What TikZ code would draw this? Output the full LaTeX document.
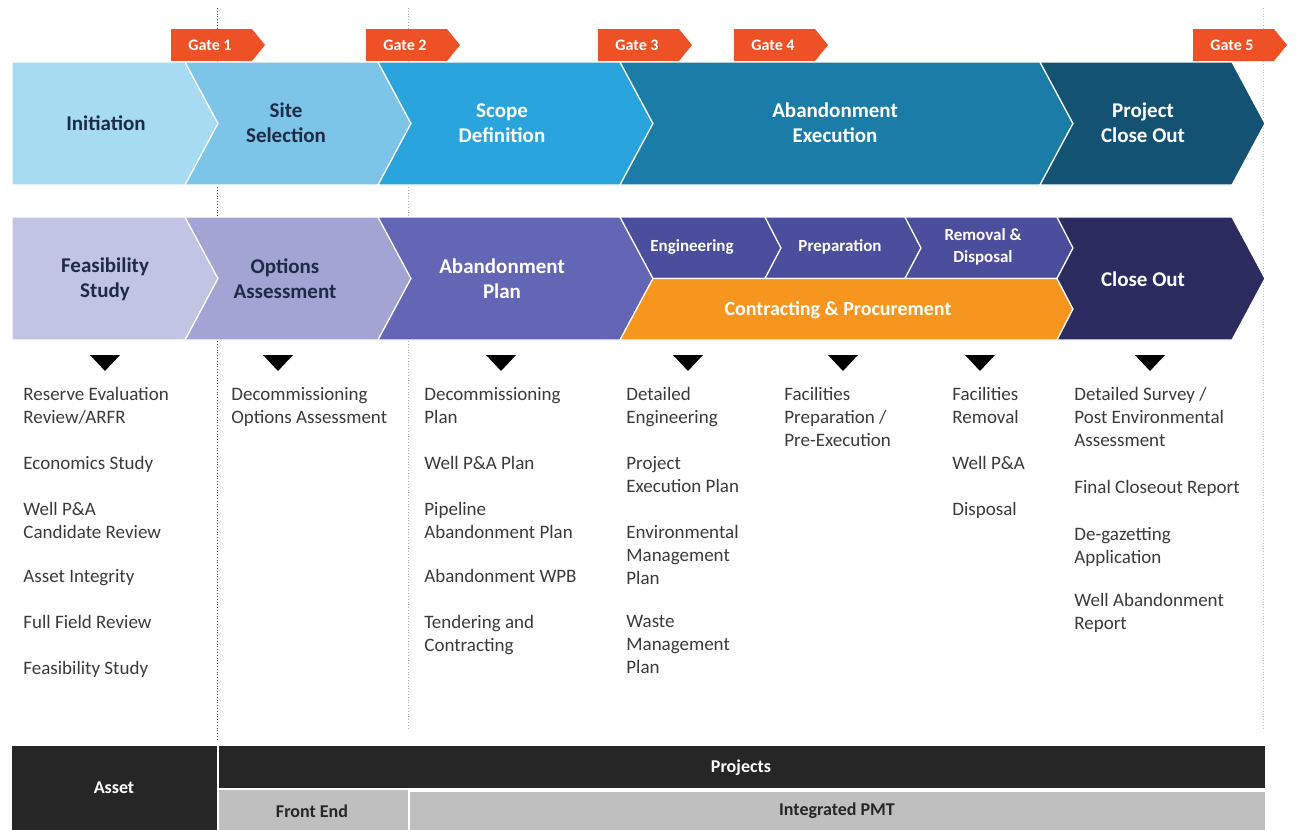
\documentclass[tikz,border=0pt]{standalone}
\usepackage{fontspec}
\setmainfont{Carlito}
\usepackage{xcolor}
\usepackage{tikz}

\definecolor{initblue}{HTML}{A6DBF2}
\definecolor{siteblue}{HTML}{7CC4E8}
\definecolor{scopeblue}{HTML}{29A4DC}
\definecolor{execblue}{HTML}{1C7CA8}
\definecolor{closeblue}{HTML}{145273}
\definecolor{feaslav}{HTML}{C1C4E2}
\definecolor{optlav}{HTML}{A2A5D3}
\definecolor{planlav}{HTML}{6365B5}
\definecolor{execlav}{HTML}{4B4D9D}
\definecolor{closelav}{HTML}{2C2B5F}
\definecolor{procorange}{HTML}{F7961E}
\definecolor{gatered}{HTML}{EE5125}
\definecolor{navytext}{HTML}{1E2B47}
\definecolor{listgray}{HTML}{3A3A3A}
\definecolor{tabblack}{HTML}{262626}
\definecolor{tabgray}{HTML}{BFBFBF}

\begin{document}
\begin{tikzpicture}[x=0.5pt, y=-0.5pt,
  phase/.style={font=\bfseries\fontsize{10.5}{12.5}\selectfont, align=center, text=white},
  darkphase/.style={phase, text=navytext},
  subphase/.style={font=\bfseries\fontsize{8.5}{11}\selectfont, align=center, text=white},
  gatetag/.style={font=\bfseries\fontsize{8}{9}\selectfont, text=white},
  item/.style={anchor=north west, inner sep=0pt, align=left, text=listgray, font=\fontsize{9.5}{11.5}\selectfont},
  tab/.style={font=\bfseries\fontsize{9}{11}\selectfont},
  gap/.style={draw=white, line width=0.6pt}
]
\useasboundingbox (0,0) rectangle (1297,830);

% gate lines
\draw[black!70, densely dotted] (217,8) -- (217,740);
\draw[black!35, densely dotted] (408,8) -- (408,730);
\draw[black!25, densely dotted] (1263,8) -- (1263,730);

% gates
\foreach \x/\n in {171/1,366/2,598/3,734/4,1193/5}{
  \fill[gatered] (\x,29) -- (\x+81,29) -- (\x+94,45) -- (\x+81,61) -- (\x,61) -- cycle;
  \node[gatetag] (gate\n) at (\x+39,45) {Gate \n};
}

% top row
\fill[initblue, gap] (12,62) -- (185,62) -- (218,123.5) -- (185,185) -- (12,185) -- cycle;
\fill[siteblue, gap] (185,62) -- (378,62) -- (411,123.5) -- (378,185) -- (185,185) -- (218,123.5) -- cycle;
\fill[scopeblue, gap] (378,62) -- (620,62) -- (653,123.5) -- (620,185) -- (378,185) -- (411,123.5) -- cycle;
\fill[execblue, gap] (620,62) -- (1040,62) -- (1073,123.5) -- (1040,185) -- (620,185) -- (653,123.5) -- cycle;
\fill[closeblue, gap] (1040,62) -- (1232,62) -- (1265,123.5) -- (1232,185) -- (1040,185) -- (1073,123.5) -- cycle;

\node[darkphase] (init) at (106,123) {Initiation};
\node[darkphase] (site) at (286,123) {Site\\Selection};
\node[phase] (scope) at (502,123) {Scope\\Definition};
\node[phase] (abexec) at (835,123) {Abandonment\\Execution};
\node[phase] (pclose) at (1143,123) {Project\\Close Out};

% second row
\fill[feaslav, gap] (12,217) -- (185,217) -- (218,278.5) -- (185,340) -- (12,340) -- cycle;
\fill[optlav, gap] (185,217) -- (378,217) -- (411,278.5) -- (378,340) -- (185,340) -- (218,278.5) -- cycle;
\fill[planlav, gap] (378,217) -- (620,217) -- (653,278.5) -- (620,340) -- (378,340) -- (411,278.5) -- cycle;
\fill[execlav, gap] (620,217) -- (765,217) -- (781,248) -- (765,278.5) -- (653,278.5) -- cycle;
\fill[execlav, gap] (765,217) -- (905,217) -- (921,248) -- (905,278.5) -- (765,278.5) -- (781,248) -- cycle;
\fill[execlav, gap] (905,217) -- (1057,217) -- (1073,248) -- (1057,278.5) -- (905,278.5) -- (921,248) -- cycle;
\fill[procorange, gap] (653,278.5) -- (1057,278.5) -- (1073,309) -- (1057,340) -- (620,340) -- cycle;
\fill[closelav, gap] (1057,217) -- (1232,217) -- (1265,278.5) -- (1232,340) -- (1057,340) -- (1073,309) -- (1057,278.5) -- (1073,248) -- cycle;

\node[darkphase] (feas) at (105,279) {Feasibility\\Study};
\node[darkphase] (opts) at (285,279) {Options\\Assessment};
\node[phase] (abplan) at (502,279) {Abandonment\\Plan};
\node[subphase] (eng) at (692,247) {Engineering};
\node[subphase] (prep) at (840,247) {Preparation};
\node[subphase] (remdisp) at (983,247) {Removal \&\\Disposal};
\node[phase, font=\bfseries\fontsize{10}{12}\selectfont] (contract) at (838,310) {Contracting \& Procurement};
\node[phase] (closeout) at (1143,279) {Close Out};

% pointers
\foreach \x in {105,278,501,688,843,980,1150}
  \fill[black] (\x-15,355) -- (\x+15,355) -- (\x,371) -- cycle;

% activity lists
\node[item] (rer) at (23,387) {Reserve Evaluation\\Review/ARFR};
\node[item] (econ) at (23,456) {Economics Study};
\node[item] (wellcand) at (23,502) {Well P\&A\\Candidate Review};
\node[item] (integ) at (23,569) {Asset Integrity};
\node[item] (ffr) at (23,615) {Full Field Review};
\node[item] (feastudy) at (23,661) {Feasibility Study};

\node[item] (doa) at (231,387) {Decommissioning\\Options Assessment};

\node[item] (dplan) at (424,387) {Decommissioning\\Plan};
\node[item] (wplan) at (424,456) {Well P\&A Plan};
\node[item] (pipe) at (424,502) {Pipeline\\Abandonment Plan};
\node[item] (wpb) at (424,569) {Abandonment WPB};
\node[item] (tender) at (424,615) {Tendering and\\Contracting};

\node[item] (deteng) at (626,387) {Detailed\\Engineering};
\node[item] (pep) at (626,456) {Project\\Execution Plan};
\node[item] (emp) at (626,525) {Environmental\\Management\\Plan};
\node[item] (wmp) at (626,615) {Waste\\Management\\Plan};

\node[item] (facprep) at (784,387) {Facilities\\Preparation /\\Pre-Execution};

\node[item] (facrem) at (952,387) {Facilities\\Removal};
\node[item] (wellpa) at (952,456) {Well P\&A};
\node[item] (disp) at (952,502) {Disposal};

\node[item] (survey) at (1074,387) {Detailed Survey /\\Post Environmental\\Assessment};
\node[item] (fcr) at (1074,480) {Final Closeout Report};
\node[item] (degaz) at (1074,527) {De-gazetting\\Application};
\node[item] (war) at (1074,593) {Well Abandonment\\Report};

% ownership table
\fill[tabblack] (12,746) rectangle (217,830);
\fill[tabblack] (219,746) rectangle (1265,788);
\fill[tabgray] (219,790) rectangle (408,830);
\fill[tabgray] (410,792) rectangle (1265,830);
\node[tab, text=white] (asset) at (114,788) {Asset};
\node[tab, text=white] (projects) at (741,768) {Projects};
\node[tab, text=tabblack] (frontend) at (312,811) {Front End};
\node[tab, text=tabblack] (ipmt) at (837,811) {Integrated PMT};
\end{tikzpicture}
\end{document}
